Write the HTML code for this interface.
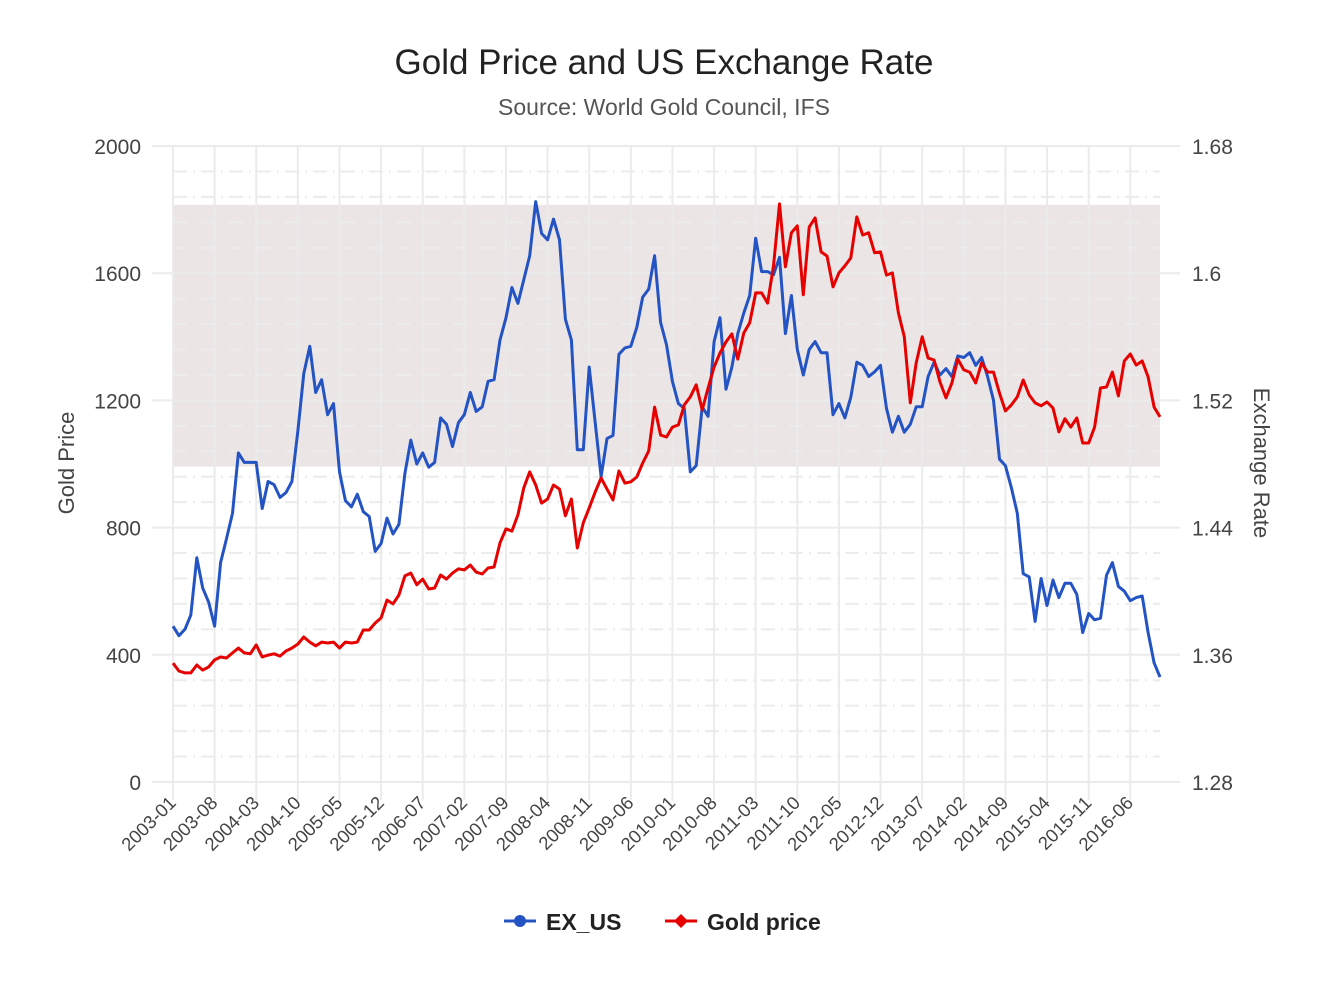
<!DOCTYPE html>
<html><head><meta charset="utf-8">
<style>
html,body{margin:0;padding:0;background:#fff;}
body{width:1330px;height:1000px;overflow:hidden;font-family:"Liberation Sans",Arial,sans-serif;}
svg text{font-family:"Liberation Sans",Arial,sans-serif;}
</style></head>
<body>
<svg id="chart" width="1330" height="1000" xmlns="http://www.w3.org/2000/svg">
<text x="664" y="74" text-anchor="middle" font-size="35" fill="#222">Gold Price and US Exchange Rate</text>
<text x="664" y="115" text-anchor="middle" font-size="23" fill="#555">Source: World Gold Council, IFS</text>
<g id="grid"></g>
<g id="marks"></g>
<g id="axes"></g>
<text transform="translate(74,463) rotate(-90)" text-anchor="middle" font-size="22" fill="#444">Gold Price</text>
<text transform="translate(1254,463) rotate(90)" text-anchor="middle" font-size="22" fill="#444">Exchange Rate</text>
<g>
<line x1="504" y1="921" x2="536" y2="921" stroke="#2453c4" stroke-width="3"/>
<circle cx="520" cy="921" r="6" fill="#2453c4"/>
<text x="546" y="930" font-size="23" font-weight="bold" fill="#222">EX_US</text>
</g>
<g>
<line x1="665" y1="921" x2="697" y2="921" stroke="#e60000" stroke-width="3"/>
<polygon points="681,914 688,921 681,928 674,921" fill="#e60000"/>
<text x="707" y="930" font-size="23" font-weight="bold" fill="#222">Gold price</text>
</g>
</svg>
<script>
const exUS = [1.378,1.372,1.376,1.385,1.421,1.402,1.393,1.378,1.418,1.433,1.449,1.487,1.481,1.481,1.481,1.452,1.469,1.467,1.459,1.462,1.469,1.501,1.537,1.554,1.525,1.533,1.511,1.518,1.475,1.457,1.453,1.461,1.450,1.447,1.425,1.430,1.446,1.436,1.442,1.474,1.495,1.480,1.487,
1.478,1.481,1.509,1.505,1.491,1.506,1.511,1.525,1.513,1.516,1.532,1.533,1.558,1.572,1.591,1.581,1.596,1.611,1.645,1.625,1.621,1.634,1.621,1.571,1.558,1.489,1.489,1.541,1.506,1.472,1.496,1.498,1.549,1.553,1.554,1.566,1.585,1.590,1.611,1.569,1.555,1.532,
1.518,1.515,1.475,1.479,1.516,1.510,1.557,1.572,1.527,1.541,1.562,1.575,1.586,1.622,1.601,1.601,1.599,1.610,1.562,1.586,1.552,1.536,1.552,1.557,1.550,1.550,1.511,1.518,1.509,1.522,1.544,1.542,1.535,1.538,1.542,1.515,1.500,1.510,1.500,1.505,1.516,1.516,
1.535,1.544,1.536,1.540,1.535,1.548,1.547,1.550,1.542,1.547,1.535,1.520,1.483,1.479,1.465,1.449,1.411,1.409,1.381,1.408,1.391,1.407,1.396,1.405,1.405,1.398,1.374,1.386,1.382,1.383,1.410,1.418,1.403,1.400,1.394,1.396,1.397,1.374,1.355,1.346];
const goldPrice = [374,349,343,343,368,352,362,384,393,390,406,421,406,403,431,393,399,403,396,412,421,434,456,440,428,440,437,440,421,440,437,440,478,478,500,516,572,560,588,648,657,620,638,
607,610,651,638,657,670,667,682,660,654,673,676,752,796,789,840,925,975,934,877,890,934,921,837,890,736,815,862,912,956,921,887,978,940,944,959,1003,1041,1179,1091,1085,1116,
1123,1186,1211,1249,1170,1239,1305,1349,1384,1409,1330,1412,1444,1538,1538,1506,1623,1818,1620,1727,1749,1532,1745,1774,1667,1654,1557,1601,1623,1648,1777,1720,1727,1664,1667,1594,1601,1475,1400,1192,1318,1400,
1333,1327,1258,1208,1255,1330,1296,1289,1255,1318,1289,1289,1223,1167,1186,1211,1264,1217,1192,1183,1195,1176,1101,1142,1116,1145,1066,1066,1116,1239,1242,1289,1214,1324,1346,1311,1324,1274,1179,1148];
const leftTicks = [0,400,800,1200,1600,2000];
const rightTicks = ["1.28","1.36","1.44","1.52","1.6","1.68"];
const bandRange = [992,1815];
const startYear = 2003, startMonth = 1;

const NS = "http://www.w3.org/2000/svg";
const X0 = 173, X1 = 1160, Y0 = 782, Y1 = 146;
const N = goldPrice.length;
const categories = [];
for (let i = 0; i < N; i++) {
  const m = startMonth - 1 + i;
  const y = startYear + Math.floor(m / 12);
  const mm = (m % 12) + 1;
  categories.push(y + "-" + (mm < 10 ? "0" + mm : mm));
}
function xs(i){ return X0 + (X1 - X0) * i / (N - 1); }
function yl(v){ return Y0 - (v - 0) / 2000 * (Y0 - Y1); }
function yr(v){ return Y0 - (v - 1.28) / 0.40 * (Y0 - Y1); }
function mk(tag, attrs, parent){
  const e = document.createElementNS(NS, tag);
  for (const k in attrs) e.setAttribute(k, attrs[k]);
  parent.appendChild(e);
  return e;
}
const grid = document.getElementById("grid");
const marks = document.getElementById("marks");
const axes = document.getElementById("axes");

const band = mk("rect", {x: X0, y: yl(bandRange[1]), width: X1 - X0, height: yl(bandRange[0]) - yl(bandRange[1]), fill: "#ebe5e5"}, grid);



for (let k = 0; k < 25; k++) {
  if (k % 5 === 0) continue;
  const y = Y0 - (Y0 - Y1) * k / 25;
  const ml = mk("line", {x1: X0, x2: X1, y1: y, y2: y, stroke: "#ececec", "stroke-width": 2, "stroke-dasharray": "14 6 2 6"}, grid);
  
  
}
leftTicks.forEach((v, k) => {
  const y = yl(v);
  const gl = mk("line", {x1: 152, x2: X1 + 20, y1: y, y2: y, stroke: "#ebebeb", "stroke-width": 2}, grid);
  
  
  const t = mk("text", {x: 141, y: y + 8, "text-anchor": "end", "font-size": 21, fill: "#444"}, axes);
  t.textContent = v;
  
  
  const rt = mk("text", {x: 1192, y: yr(parseFloat(rightTicks[k])) + 8, "text-anchor": "start", "font-size": 21, fill: "#444"}, axes);
  rt.textContent = rightTicks[k];
  
  
});
for (let i = 0; i < N; i += 7) {
  const x = xs(i);
  const vl = mk("line", {x1: x, x2: x, y1: Y1, y2: Y0 + 18, stroke: "#ebebeb", "stroke-width": 2}, grid);
  
  
  const t = mk("text", {transform: "translate(" + (x + 4) + "," + (Y0 + 22) + ") rotate(-45)", "text-anchor": "end", "font-size": 18.5, fill: "#444"}, axes);
  t.textContent = categories[i];
  
  
}
let dB = "", dR = "";
for (let i = 0; i < N; i++) {
  dB += (i ? "L" : "M") + xs(i).toFixed(1) + "," + yr(exUS[i]).toFixed(1);
  dR += (i ? "L" : "M") + xs(i).toFixed(1) + "," + yl(goldPrice[i]).toFixed(1);
}
const pb = mk("path", {d: dB, fill: "none", stroke: "#2453c4", "stroke-width": 3, "stroke-linejoin": "round"}, marks);


const pr = mk("path", {d: dR, fill: "none", stroke: "#e60000", "stroke-width": 3, "stroke-linejoin": "round"}, marks);


</script>
</body></html>
